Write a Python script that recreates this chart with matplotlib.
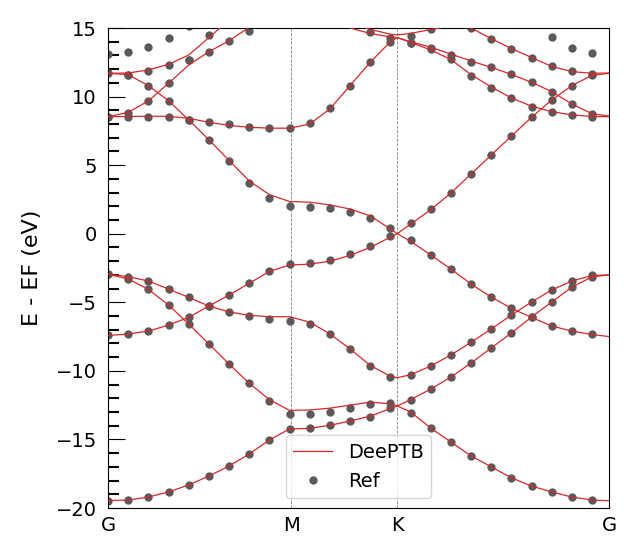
import numpy as np
import matplotlib
matplotlib.use("Agg")
import matplotlib.pyplot as plt
from matplotlib.ticker import MultipleLocator

# high-symmetry path G-M-K-G of the hexagonal cell (lengths in 2pi/a units)
k_G, k_M, k_K, k_G2 = 0.0, 0.5774, 0.9107, 1.5774
sym_labels = ["G", "M", "K", "G"]

# reference (DFT) sampling: 25 points along the path
k_ref = np.arange(25) * 0.0635
# DeePTB curve sampling: the same points plus K and the end point
k_fit = np.concatenate([k_ref[:15], [k_K], k_ref[15:], [k_G2]])

nan = np.nan

# --- DeePTB bands (eV) ---
fit_v1 = [-19.45, -19.42, -19.2, -18.83, -18.32, -17.67, -16.94, -16.06, -15.04, -14.24,
          -14.19, -13.97, -13.66, -13.3, -12.75, -12.56,
          -13.0, -14.17, -15.19, -16.2, -17.0, -17.8, -18.4, -18.83, -19.2, -19.42, -19.47]
fit_v2 = [-2.95, -3.3, -4.06, -5.2, -6.58, -8.04, -9.5, -10.9, -12.1, -12.88,
          -12.85, -12.72, -12.5, -12.28, -12.4, -12.56,
          -12.1, -11.33, -10.45, -9.43, -8.33, -7.24, -6.07, -4.98, -3.89, -3.15, -3.0]
fit_v3 = [-7.42, -7.31, -7.1, -6.66, -6.1, -5.27, -4.47, -3.62, -2.75, -2.28,
          -2.22, -2.0, -1.58, -1.0, -0.25, 0.0,
          -0.55, -1.55, -2.57, -3.67, -4.62, -5.44, -6.1, -6.73, -7.1, -7.35, -7.5]
fit_v4 = [-2.95, -3.13, -3.45, -4.03, -4.64, -5.27, -5.7, -5.95, -6.05, -6.05,
          -6.45, -7.3, -8.4, -9.6, -10.4, -10.5,
          -10.28, -9.65, -8.84, -7.92, -6.95, -5.93, -4.98, -4.1, -3.45, -3.05, -3.0]
fit_c1 = [11.7, 11.6, 10.8, 9.7, 8.3, 6.85, 5.35, 3.85, 2.85, 2.35,
          2.3, 2.1, 1.8, 1.3, 0.35, 0.0,
          0.7, 1.75, 2.97, 4.35, 5.74, 7.12, 8.49, 9.75, 10.8, 11.55, 11.7]
fit_c2 = [8.53, 8.55, 8.57, 8.56, 8.42, 8.12, 7.9, 7.76, 7.7, 7.69,
          8.0, 9.1, 10.8, 12.5, 14.0, 14.3,
          13.95, 13.4, 12.7, 11.6, 10.7, 9.9, 9.3, 8.9, 8.66, 8.55, 8.53]
fit_c3 = [8.53, 8.85, 9.68, 10.97, 12.3, 13.27, 14.07, 15.05, 15.7, 16.2,
          16.5, 15.9, 15.0, 14.6, 14.35, 14.3,
          14.0, 13.6, 13.1, 12.6, 12.13, 11.62, 11.04, 10.36, 9.46, 8.75, 8.58]
fit_c4 = [11.7, 11.72, 11.94, 12.35, 13.03, 14.3, 15.6, 16.5, 17.0, 17.2,
          16.8, 16.0, 15.4, 14.9, 14.55, 14.5,
          14.6, 14.9, 15.15, 15.0, 14.22, 13.5, 12.85, 12.2, 11.82, 11.7, 11.72]

# --- reference bands (eV) ---
ref_v1 = [-19.49, -19.42, -19.2, -18.83, -18.32, -17.67, -16.94, -16.06, -15.04, -14.24,
          -14.19, -13.97, -13.66, -13.34, -12.69, -13.07, -14.17, -15.19, -16.2, -17.0,
          -17.8, -18.4, -18.83, -19.2, -19.42]
ref_v2 = [-2.95, -3.3, -4.06, -5.2, -6.58, -8.04, -9.5, -10.9, -12.2, -13.15,
          -13.15, -13.02, -12.73, -12.44, -12.37, -12.13, -11.33, -10.45, -9.43, -8.33,
          -7.24, -6.07, -4.98, -3.89, -3.15]
ref_v3 = [-7.39, -7.31, -7.1, -6.66, -6.1, -5.27, -4.47, -3.62, -2.72, -2.2,
          -2.14, -1.92, -1.48, -0.9, -0.17, -0.46, -1.55, -2.57, -3.67, -4.62,
          -5.44, -6.1, -6.73, -7.1, -7.31]
ref_v4 = [-2.95, -3.13, -3.45, -4.03, -4.64, -5.27, -5.73, -6.0, -6.24, -6.36,
          -6.58, -7.33, -8.4, -9.65, -10.47, -10.28, -9.65, -8.84, -7.92, -6.95,
          -5.93, -4.98, -4.1, -3.45, -3.0]
ref_c1 = [11.7, 11.57, 10.77, 9.68, 8.29, 6.83, 5.3, 3.72, 2.58, 2.02,
          1.93, 1.85, 1.56, 1.12, 0.39, 0.75, 1.77, 2.99, 4.35, 5.74,
          7.12, 8.49, 9.75, 10.8, 11.57]
ref_c2 = [8.53, 8.53, 8.53, 8.49, 8.29, 8.12, 7.98, 7.8, 7.69, 7.69,
          8.05, 9.14, 10.77, 12.5, 13.95, 13.88, 13.45, 12.72, 11.5, 10.6,
          9.87, 9.26, 8.9, 8.66, 8.53]
ref_c3 = [8.53, 8.78, 9.68, 10.97, 12.67, 13.27, 14.07, 14.78, nan, nan,
          nan, nan, nan, 14.73, 14.3, 13.88, 13.52, 13.03, 12.54, 12.13,
          11.62, 11.04, 10.36, 9.46, 8.71]
ref_c4 = [11.7, 11.57, 11.86, 12.3, 12.67, 14.49, nan, nan, nan, nan,
          nan, nan, nan, nan, nan, 14.42, 14.9, 15.3, 15.0, 14.18,
          13.45, 12.79, 12.23, 11.86, 11.65]
ref_c5 = [13.08, 13.23, 13.59, 14.25, 15.15, nan, nan, nan, nan, nan,
          nan, nan, nan, nan, nan, nan, nan, nan, nan, nan,
          nan, nan, 14.37, 13.52, 13.15]

fit_bands = [fit_v1, fit_v2, fit_v3, fit_v4, fit_c1, fit_c2, fit_c3, fit_c4]
ref_bands = [ref_v1, ref_v2, ref_v3, ref_v4, ref_c1, ref_c2, ref_c3, ref_c4, ref_c5]

fig = plt.figure(figsize=(6.38, 5.58), dpi=100)
ax = fig.add_axes([0.1693, 0.0896, 0.7853, 0.8602])

for i, band in enumerate(ref_bands):
    ax.plot(k_ref, band, "o", color="#5a5a5a", ms=6, mew=0, zorder=2,
            label="Ref" if i == 0 else None)
for i, band in enumerate(fit_bands):
    ax.plot(k_fit, band, "-", color="#d62728", lw=0.9, zorder=3,
            label="DeePTB" if i == 0 else None)

for k in (k_M, k_K):
    ax.axvline(k, color="gray", ls="--", lw=0.6, zorder=1)

ax.set_xlim(k_G, k_G2)
ax.set_ylim(-20, 15)
ax.set_xticks([k_G, k_M, k_K, k_G2])
ax.set_xticklabels(sym_labels)
ax.tick_params(axis="x", length=0, labelsize=14, pad=6)
ax.yaxis.set_major_locator(MultipleLocator(5))
ax.yaxis.set_minor_locator(MultipleLocator(1))
ax.tick_params(axis="y", which="major", direction="in", length=12, width=0.8,
               labelsize=14, pad=8)
ax.tick_params(axis="y", which="minor", direction="in", length=8, width=1.5)
ax.set_ylabel("E - EF (eV)", fontsize=16, labelpad=10)

handles, labels = ax.get_legend_handles_labels()
order = [labels.index("DeePTB"), labels.index("Ref")]
ax.legend([handles[j] for j in order], [labels[j] for j in order],
          loc="lower center", fontsize=14)

fig.savefig("out.png", dpi=100)
